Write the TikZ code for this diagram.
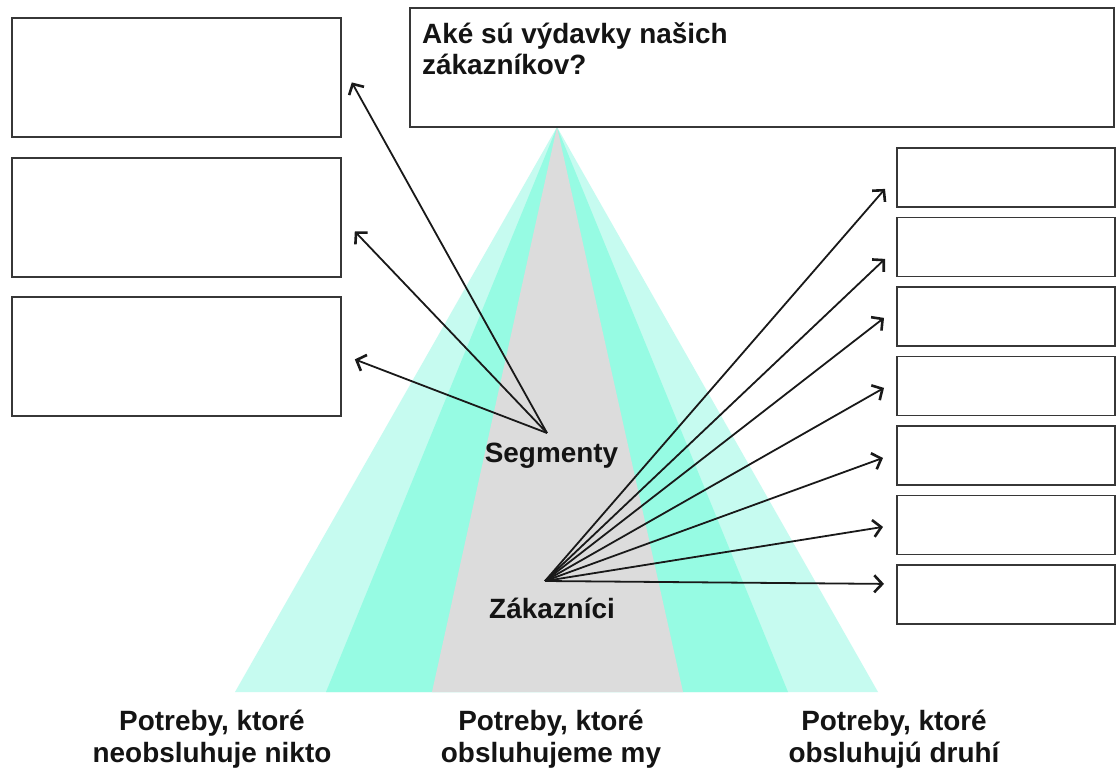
\documentclass[tikz,border=0pt]{standalone}
\usepackage{fontspec}
\setmainfont{Liberation Sans}
\usetikzlibrary{arrows.meta,calc}
\definecolor{lightaqua}{RGB}{198,251,240}
\definecolor{aqua}{RGB}{150,251,227}
\definecolor{pgray}{RGB}{220,220,220}
\definecolor{boxline}{RGB}{55,55,55}
\definecolor{txt}{RGB}{20,20,20}
\begin{document}
\begin{tikzpicture}[x=1bp,y=-1bp,
  box/.style={draw=boxline,line width=1.8bp,fill=white,inner sep=0pt,anchor=north west},
  lbl/.style={font=\bfseries\fontsize{28}{32}\selectfont,text=txt,inner sep=0pt},
  arr/.style={line width=1.8bp,draw=black!90,-{Straight Barb[length=8bp,width=17bp,line width=2.6bp]}}]
\useasboundingbox (0,0) rectangle (1116,773);
\fill[white] (0,0) rectangle (1116,773);
% pyramid
\coordinate (apex) at (557,127);
\fill[lightaqua] (apex) -- (235,692) -- (878,692) -- cycle;
\fill[aqua] (apex) -- (326,692) -- (788,692) -- cycle;
\fill[pgray] (apex) -- (432,692) -- (683,692) -- cycle;
% top question box
\node[box,minimum width=704bp,minimum height=119bp] (q) at (409,7) {};
\node[lbl,anchor=base west,align=left] (qt) at (422,75) {Aké sú výdavky našich\\zákazníkov?};
% left boxes
\node[box,minimum width=329bp,minimum height=119bp] (lb1) at (11,17) {};
\node[box,minimum width=329bp,minimum height=119bp] (lb2) at (11,157) {};
\node[box,minimum width=329bp,minimum height=119bp] (lb3) at (11,296) {};
% right boxes
\foreach \i/\y in {1/147,2/216.5,3/286,4/355.5,5/425,6/494.5,7/564}{
  \node[box,minimum width=218bp,minimum height=59bp] (rb\i) at (896,\y) {};
}
% labels
\node[lbl,anchor=base] (segt) at (551.5,462) {Segmenty};
\node[lbl,anchor=base] (zakt) at (552,618) {Zákazníci};
\node[lbl,anchor=base,align=center] (n1) at (212,762) {Potreby, ktoré\\neobsluhuje nikto};
\node[lbl,anchor=base,align=center] (n2) at (551,762) {Potreby, ktoré\\obsluhujeme my};
\node[lbl,anchor=base,align=center] (n3) at (894,762) {Potreby, ktoré\\obsluhujú druhí};
% arrow origins
\coordinate (seg) at (547,433);
\coordinate (zak) at (545,581);
% arrow ends near left boxes
\coordinate (lt1) at ($(lb1.east)+(10,5)$);
\coordinate (lt2) at ($(lb2.east)+(13,14)$);
\coordinate (lt3) at ($(lb3.east)+(13,3)$);
\foreach \i in {1,2,3}{ \draw[arr] (seg) -- (lt\i); }
% arrow ends near right boxes
\coordinate (rt1) at ($(rb1.west)+(-11,11.5)$);
\coordinate (rt2) at ($(rb2.west)+(-11,12)$);
\coordinate (rt3) at ($(rb3.west)+(-12,1.5)$);
\coordinate (rt4) at ($(rb4.west)+(-12,2)$);
\coordinate (rt5) at ($(rb5.west)+(-13,2.5)$);
\coordinate (rt6) at ($(rb6.west)+(-13,2)$);
\coordinate (rt7) at ($(rb7.west)+(-12,-10.5)$);
\foreach \i in {1,...,7}{ \draw[arr] (zak) -- (rt\i); }
\end{tikzpicture}
\end{document}
